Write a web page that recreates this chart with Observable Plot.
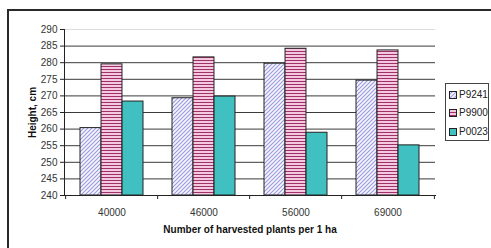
<!DOCTYPE html>
<html><head><meta charset="utf-8">
<script src="https://cdn.jsdelivr.net/npm/d3@7"></script>
<script src="https://cdn.jsdelivr.net/npm/@observablehq/plot@0.6"></script>
<style>
body{margin:0;background:#fff;font-family:"Liberation Sans",Arial,sans-serif}
#wrap{position:relative;width:491px;height:248px;overflow:hidden;background:#fff}
#frame{position:absolute;left:7px;top:9px;width:600px;height:400px;border:2px solid #2a2a2a;box-sizing:border-box}
#chart{position:absolute;left:0;top:0}
#legend{position:absolute;left:445px;top:83px;width:44px;height:58px;border:1px solid #444;box-sizing:border-box;background:#fff}
.item{position:absolute;left:3px;height:12px;font-size:10px;line-height:12px;color:#222;display:flex;align-items:center;gap:2px}
g[aria-label="x-axis label"] text, g[aria-label="y-axis label"] text{font-weight:bold;fill:#111}
</style></head>
<body>
<svg width="0" height="0" style="position:absolute">
  <defs>
    <pattern id="pat0" width="4" height="4" patternUnits="userSpaceOnUse">
      <rect width="4" height="4" fill="#f7f7fd"/>
      <path d="M-1,1 l2,-2 M0,4 l4,-4 M3,5 l2,-2" stroke="#9c9cde" stroke-width="1.2"/>
    </pattern>
    <pattern id="pat1" width="3" height="3" patternUnits="userSpaceOnUse">
      <rect width="3" height="3" fill="#f4c8de"/>
      <rect width="3" height="1" fill="#a0306a"/>
    </pattern>
  </defs>
</svg>
<div id="wrap">
  <div id="frame"></div>
  <div id="chart"></div>
  <div id="legend"></div>
</div>
<script>
const categories = ["40000", "46000", "56000", "69000"];
const seriesNames = ["P9241", "P9900", "P0023"];
const p9241 = [260.3, 269.3, 279.7, 274.6];
const p9900 = [279.5, 281.6, 284.2, 283.7];
const p0023 = [268.3, 269.8, 258.9, 255.1];
const yTicks = [240, 245, 250, 255, 260, 265, 270, 275, 280, 285, 290];
const xTitle = "Number of harvested plants per 1 ha";
const yTitle = "Height, cm";

const seriesValues = [p9241, p9900, p0023];
const fills = ["url(#pat0)", "url(#pat1)", "#40c0c0"];

const W = 491, H = 248, mL = 64, mR = 56, mT = 29, mB = 53;
const step = (W - mL - mR) / categories.length;
const bandwidth = step * (1 - 0.32);
const bw = bandwidth / 3;
const pxPerUnit = (H - mT - mB) / (290 - 240);

const barMarks = seriesValues.map((vals, i) =>
  Plot.barY(categories.map((c, j) => ({cat: c, v: vals[j]})), {
    x: "cat", y1: 240, y2: "v",
    fill: fills[i], stroke: "#222", strokeWidth: 1,
    insetLeft: bw * i, insetRight: bw * (2 - i)
  })
);

const chart = Plot.plot({
  width: W, height: H,
  marginLeft: mL, marginRight: mR, marginTop: mT, marginBottom: mB,
  style: {fontFamily: '"Liberation Sans", Arial, sans-serif', fontSize: "10px", color: "#333", background: "transparent"},
  x: {domain: categories, paddingInner: 0.32, paddingOuter: 0.16},
  y: {domain: [240, 290]},
  marks: [
    Plot.ruleY(yTicks.slice(1, -1), {stroke: "#3a3a3a", strokeWidth: 1}),
    Plot.ruleY([290], {stroke: "#dcdcdc", strokeWidth: 1}),
    ...barMarks,
    Plot.frame({anchor: "left", stroke: "#222"}),
    Plot.frame({anchor: "bottom", stroke: "#222"}),
    Plot.ruleX(categories, {x: d => d, dx: -step / 2, y1: 240, y2: 240 - 4 / pxPerUnit, stroke: "#222"}),
    Plot.ruleX(categories.slice(-1), {x: d => d, dx: step / 2, y1: 240, y2: 240 - 4 / pxPerUnit, stroke: "#222"}),
    Plot.axisY({ticks: yTicks, tickSize: 4, tickPadding: 3, stroke: "#222", label: yTitle, labelAnchor: "center", labelArrow: "none", labelOffset: 36, fontSize: 10}),
    Plot.axisX({tickSize: 0, tickPadding: 13, label: xTitle, labelAnchor: "center", labelArrow: "none", labelOffset: 37, fontSize: 10})
  ]
});
document.getElementById("chart").appendChild(chart);

const legend = document.getElementById("legend");
const tops = [5, 23, 42];
seriesNames.forEach((name, i) => {
  const item = document.createElement("div");
  item.className = "item";
  item.style.top = tops[i] + "px";
  item.innerHTML = `<svg width="8" height="8"><rect x="0.5" y="0.5" width="7" height="7" fill="${fills[i]}" stroke="#222"/></svg><span>${name}</span>`;
  legend.appendChild(item);
});
</script>
</body></html>
